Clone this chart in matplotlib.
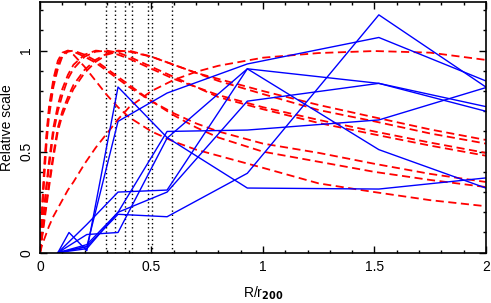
import matplotlib
matplotlib.use("Agg")
import matplotlib.pyplot as plt
from matplotlib.ticker import MultipleLocator

plt.rcParams['font.family'] = ['Liberation Sans', 'DejaVu Sans']

# vertical dotted markers
vlines_x = [0.295, 0.335, 0.381, 0.414, 0.486, 0.501, 0.592]

# red dashed model curves (sampled)
xr = [0, 0.01, 0.02, 0.03, 0.04, 0.06, 0.08, 0.1, 0.125, 0.15, 0.2, 0.25,
      0.3, 0.35, 0.4, 0.5, 0.6, 0.7, 0.8, 1.0, 1.25, 1.5, 1.75, 2.0]
r1 = [0, .22, .42, .58, .70, .84, .93, .98, 1.0, .995, .97, .94, .90, .86, .82, .75, .69, .64, .60, .54, .494, .44, .39, .35]
r2 = [0, .20, .39, .55, .67, .82, .91, .97, .995, 1.0, .98, .95, .91, .87, .83, .75, .68, .62, .57, .50, .45, .40, .36, .325]
r3 = [0, .12, .24, .35, .45, .62, .73, .81, .88, .93, .98, 1.0, .995, .98, .96, .91, .86, .82, .78, .72, .657, .60, .545, .494]
r4 = [0, .11, .22, .33, .42, .59, .70, .78, .86, .91, .97, .995, 1.0, .99, .97, .92, .87, .82, .77, .71, .642, .585, .53, .48]
r5 = [0, .09, .18, .26, .34, .49, .62, .70, .77, .83, .905, .955, .985, 1.0, .995, .97, .93, .89, .86, .80, .731, .67, .61, .558]
r6 = [0, .08, .16, .24, .32, .47, .60, .68, .75, .81, .89, .945, .98, .995, 1.0, .97, .93, .89, .85, .785, .706, .65, .59, .54]
r7 = [0, .24, .45, .60, .72, .86, .95, .99, 1.0, .98, .92, .85, .78, .72, .67, .60, .55, .51, .48, .42, .343, .30, .26, .23]
r8 = [0, .04, .07, .10, .13, .18, .22, .26, .31, .35, .44, .52, .59, .66, .72, .80, .855, .895, .925, .965, .988, .998, .99, .954]
red_curves = [r1, r2, r3, r4, r5, r6, r7, r8]

# blue measured profiles
bx = [0.08, 0.21, 0.35, 0.57, 0.93, 1.52, 2.0]
b1x = [0.08, 0.13, 0.21, 0.35, 0.57, 0.93, 1.52, 2.0]
b1 = [0, 0.10, 0.01, 0.82, 0.57, 0.32, 0.315, 0.37]
b2 = [0, 0.14, 0.30, 0.31, 0.91, 0.51, 0.32]
b3 = [0, 0.03, 0.65, 0.79, 0.934, 1.065, 0.85]
b4 = [0, 0.03, 0.19, 0.178, 0.393, 1.177, 0.82]
b5 = [0, 0.09, 0.10, 0.567, 0.91, 0.838, 0.70]
b6 = [0, 0.04, 0.20, 0.30, 0.75, 0.838, 0.723]
b7 = [0, 0.02, 0.20, 0.60, 0.607, 0.657, 0.817]
blue_lines = [b2, b3, b4, b5, b6, b7]

fig = plt.figure(figsize=(4.91, 3.03), dpi=100)
ax = fig.add_axes([0.0815, 0.166, 0.908, 0.827])

for xv in vlines_x:
    ax.plot([xv, xv], [0, 1.24], color='black', lw=1.0, ls=(0, (1, 2)))

for yc in red_curves:
    ax.plot(xr, yc, color='red', lw=1.3, dashes=(4.5, 2.5))

ax.plot(b1x, b1, color='blue', lw=1.0)
for yb in blue_lines:
    ax.plot(bx, yb, color='blue', lw=1.0)

ax.set_xlim(0, 2)
ax.set_ylim(0, 1.24)
ax.xaxis.set_major_locator(MultipleLocator(0.5))
ax.xaxis.set_minor_locator(MultipleLocator(0.1))
ax.yaxis.set_major_locator(MultipleLocator(0.5))
ax.yaxis.set_minor_locator(MultipleLocator(0.1))
ax.set_xticks([0, 0.5, 1, 1.5, 2])
ax.set_xticklabels(['0', '0.5', '1', '1.5', '2'])
ax.set_yticks([0, 0.5, 1])
ax.set_yticklabels(['0', '0.5', '1'], rotation=90, va='center')
ax.tick_params(which='both', direction='in', top=True, right=True, labelsize=10, width=1)
ax.tick_params(which='major', length=5, pad=5)
ax.tick_params(which='minor', length=2.5)
for s in ax.spines.values():
    s.set_linewidth(1.2)
ax.set_xlabel('R/r$_{\\mathbf{200}}$', fontsize=10, labelpad=8)
ax.set_ylabel('Relative scale', fontsize=10, labelpad=4)

fig.savefig('out.png', dpi=100)
